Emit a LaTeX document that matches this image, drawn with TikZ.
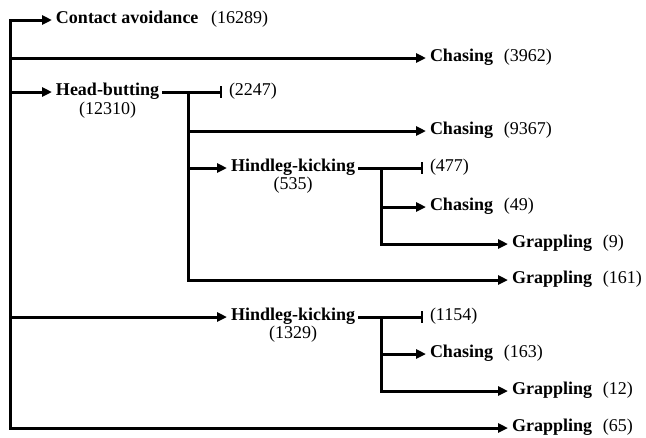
\documentclass[tikz,border=0pt]{standalone}
\usepackage{fontspec}
\setmainfont{Liberation Serif}
\usetikzlibrary{arrows.meta, positioning}

\begin{document}
\begin{tikzpicture}[x=1pt, y=-1pt,
                    act/.style={anchor=west, inner xsep=4pt, inner ysep=0pt, outer sep=0pt,
                                text height=12pt, text depth=4.2pt, font=\fontsize{18}{21}\selectfont\bfseries},
                    cnt/.style={inner sep=0pt, outer sep=0pt, text height=12pt, text depth=4.2pt,
                                font=\fontsize{18}{21}\selectfont},
                    tail_cnt/.style={act, inner xsep=7pt, font=\fontsize{18}{21}\selectfont},
                    br_line/.style={line width=3pt, line cap=rect},
                    br_arrow/.style={br_line, -{Triangle[length=10pt, width=9pt]}},
                    br_stop/.style={br_line, -{Bar[width=12pt, line width=1.8pt]}}]

    \useasboundingbox (0,0) rectangle (646,437);

    \coordinate (top) at (10,20);
    \coordinate (bot) at (10,428);

    \node[act] (ca)  at (52,20)   {Contact avoidance\hspace{.7em}{\mdseries(16289)}};
    \node[act] (ch1) at (426,58)  {Chasing\hspace{.6em}{\mdseries(3962)}};
    \node[act] (hb)  at (52,92)   {Head-butting};
    \node[cnt, below=2pt of hb] (hbn) {(12310)};
    \node[tail_cnt] (n1) at (222,92) {(2247)};
    \node[act] (hk2) at (227,317) {Hindleg-kicking};
    \node[cnt, below=1pt of hk2] (hk2n) {(1329)};
    \node[act] (g65) at (508,428) {Grappling\hspace{.6em}{\mdseries(65)}};

    \draw[br_line]  (top) -- (bot);
    \draw[br_arrow] (top) -- (ca);
    \draw[br_arrow] (top |- ch1) -- (ch1);
    \draw[br_arrow] (top |- hb) -- (hb);
    \draw[br_arrow] (top |- hk2) -- (hk2);
    \draw[br_arrow] (bot) -- (g65);
    \draw[br_stop]  (hb) -- (n1);

    \coordinate (hbj) at (188,92);
    \coordinate (hbb) at (188,280);

    \node[act] (ch2)  at (426,131) {Chasing\hspace{.6em}{\mdseries(9367)}};
    \node[act] (hk1)  at (227,168) {Hindleg-kicking};
    \node[cnt, below=1pt of hk1] (hk1n) {(535)};
    \node[act] (g161) at (508,280) {Grappling\hspace{.6em}{\mdseries(161)}};

    \draw[br_line]  (hbj) -- (hbb);
    \draw[br_arrow] (hbj |- ch2) -- (ch2);
    \draw[br_arrow] (hbj |- hk1) -- (hk1);
    \draw[br_arrow] (hbb) -- (g161);

    \coordinate (hk1j) at (381,168);
    \coordinate (hk1b) at (381,244);

    \node[tail_cnt] (n2) at (423,168) {(477)};
    \node[act] (ch3) at (426,207) {Chasing\hspace{.6em}{\mdseries(49)}};
    \node[act] (g9)  at (508,244) {Grappling\hspace{.6em}{\mdseries(9)}};

    \draw[br_stop]  (hk1) -- (n2);
    \draw[br_line]  (hk1j) -- (hk1b);
    \draw[br_arrow] (hk1j |- ch3) -- (ch3);
    \draw[br_arrow] (hk1b) -- (g9);

    \coordinate (hk2j) at (381,317);
    \coordinate (hk2b) at (381,391);

    \node[tail_cnt] (n3) at (423,317) {(1154)};
    \node[act] (ch4) at (426,354) {Chasing\hspace{.6em}{\mdseries(163)}};
    \node[act] (g12) at (508,391) {Grappling\hspace{.6em}{\mdseries(12)}};

    \draw[br_stop]  (hk2) -- (n3);
    \draw[br_line]  (hk2j) -- (hk2b);
    \draw[br_arrow] (hk2j |- ch4) -- (ch4);
    \draw[br_arrow] (hk2b) -- (g12);
\end{tikzpicture}
\end{document}
